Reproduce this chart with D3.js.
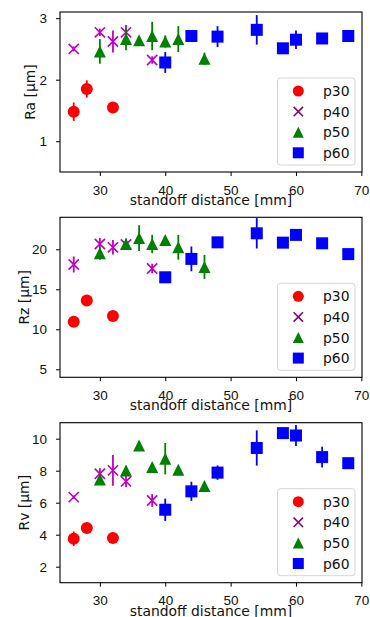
<!DOCTYPE html>
<html>
<head>
<meta charset="utf-8">
<script src="https://cdn.jsdelivr.net/npm/d3@7"></script>
<style>
  body { margin: 0; background: #fff; }
  svg { display: block; font-family: "DejaVu Sans", sans-serif; }
</style>
</head>
<body>
<div id="chart"></div>
<script>
// standoff distances per power setting
const dist30 = [26, 28, 32];
const dist40 = [26, 30, 32, 34, 38];
const dist50 = [30, 34, 36, 38, 40, 42, 46];
const dist60 = [40, 44, 48, 54, 58, 60, 64, 68];

// Ra [um]
const ra30 = [1.48, 1.85, 1.55];
const ra30Err = [0.15, 0.14, 0.05];
const ra40 = [2.50, 2.77, 2.62, 2.77, 2.32];
const ra40Err = [0.04, 0.06, 0.18, 0.12, 0.06];
const ra50 = [2.46, 2.66, 2.64, 2.71, 2.62, 2.66, 2.34];
const ra50Err = [0.2, 0.18, 0.05, 0.23, 0.1, 0.21, 0.1];
const ra60 = [2.28, 2.71, 2.70, 2.81, 2.51, 2.65, 2.67, 2.71];
const ra60Err = [0.17, 0.05, 0.17, 0.24, 0.02, 0.15, 0.03, 0.03];

// Rz [um]
const rz30 = [10.95, 13.6, 11.66];
const rz30Err = [0.3, 0.3, 0.3];
const rz40 = [18.1, 20.66, 20.25, 20.6, 17.6];
const rz40Err = [1.0, 0.75, 0.9, 0.7, 0.6];
const rz50 = [19.5, 20.66, 21.4, 20.66, 21.16, 20.25, 17.8];
const rz50Err = [0.8, 0.7, 1.6, 1.15, 0.3, 1.55, 1.5];
const rz60 = [16.5, 18.8, 20.87, 22.0, 20.83, 21.8, 20.75, 19.4];
const rz60Err = [0.4, 1.55, 0.3, 1.9, 0.2, 0.3, 0.4, 0.2];

// Rv [um]
const rv30 = [3.75, 4.42, 3.80];
const rv30Err = [0.45, 0.2, 0.15];
const rv40 = [6.35, 7.81, 8.02, 7.33, 6.14];
const rv40Err = [0.1, 0.35, 0.96, 0.35, 0.4];
const rv50 = [7.45, 8.02, 9.58, 8.23, 8.75, 8.06, 7.04];
const rv50Err = [0.3, 0.25, 0.2, 0.15, 0.98, 0.2, 0.15];
const rv60 = [5.56, 6.71, 7.88, 9.42, 10.35, 10.2, 8.85, 8.47];
const rv60Err = [0.7, 0.6, 0.45, 1.1, 0.15, 0.66, 0.65, 0.3];

const seriesNames = ["p30", "p40", "p50", "p60"];
const xTicks = [30, 40, 50, 60, 70];
const raTicks = [1, 2, 3];
const rzTicks = [5, 10, 15, 20];
const rvTicks = [2, 4, 6, 8, 10];

const styles = {
  p30: { shape: "circle", color: "#ff0000", legend: "#ff0000" },
  p40: { shape: "x", color: "#c000c0", legend: "#800080" },
  p50: { shape: "triangle", color: "#008000", legend: "#008000" },
  p60: { shape: "square", color: "#0000ff", legend: "#0000ff" }
};

const dists = { p30: dist30, p40: dist40, p50: dist50, p60: dist60 };

const panels = [
  { label: "Ra [µm]", labelX: 35, top: 12, domain: [0.5, 3.1], ticks: raTicks,
    values: { p30: [ra30, ra30Err], p40: [ra40, ra40Err], p50: [ra50, ra50Err], p60: [ra60, ra60Err] } },
  { label: "Rz [µm]", labelX: 28.5, top: 217.3, domain: [4, 24], ticks: rzTicks,
    values: { p30: [rz30, rz30Err], p40: [rz40, rz40Err], p50: [rz50, rz50Err], p60: [rz60, rz60Err] } },
  { label: "Rv [µm]", labelX: 28.5, top: 422.7, domain: [1, 11], ticks: rvTicks,
    values: { p30: [rv30, rv30Err], p40: [rv40, rv40Err], p50: [rv50, rv50Err], p60: [rv60, rv60Err] } }
];

const width = 370, height = 617;
const left = 60, right = 362, panelHeight = 160;

const svg = d3.select("#chart").append("svg")
  .attr("width", width)
  .attr("height", height);

const x = d3.scaleLinear().domain([23.9, 70.1]).range([left, right]);

function drawMarker(g, shape, cx, cy, size, color) {
  const h = size / 2;
  if (shape === "circle") {
    g.append("circle").attr("cx", cx).attr("cy", cy).attr("r", h).attr("fill", color);
  } else if (shape === "square") {
    g.append("rect").attr("x", cx - h).attr("y", cy - h)
      .attr("width", size).attr("height", size).attr("fill", color);
  } else if (shape === "triangle") {
    g.append("path")
      .attr("d", `M${cx},${cy - h}L${cx + h},${cy + h}L${cx - h},${cy + h}Z`)
      .attr("fill", color);
  } else {
    const k = h * 0.85;
    g.append("path")
      .attr("d", `M${cx - k},${cy - k}L${cx + k},${cy + k}M${cx - k},${cy + k}L${cx + k},${cy - k}`)
      .attr("stroke", color).attr("stroke-width", 1.6).attr("fill", "none");
  }
}

panels.forEach(panel => {
  const bottom = panel.top + panelHeight;
  const y = d3.scaleLinear().domain(panel.domain).range([bottom, panel.top]);
  const g = svg.append("g");

  // data: error bars then markers
  seriesNames.forEach(name => {
    const st = styles[name];
    const [vals, errs] = panel.values[name];
    const ds = dists[name];
    ds.forEach((d, i) => {
      g.append("line")
        .attr("x1", x(d)).attr("x2", x(d))
        .attr("y1", y(vals[i] - errs[i])).attr("y2", y(vals[i] + errs[i]))
        .attr("stroke", st.color).attr("stroke-width", 1.8);
    });
    ds.forEach((d, i) => drawMarker(g, st.shape, x(d), y(vals[i]), 12, st.color));
  });

  // axes
  g.append("g")
    .attr("transform", `translate(0,${bottom})`)
    .call(d3.axisBottom(x).tickValues(xTicks).tickFormat(d3.format("d"))
      .tickSize(4).tickPadding(9).tickSizeOuter(0))
    .call(a => a.select(".domain").remove())
    .call(a => a.selectAll("text").attr("font-size", 13.5).attr("fill", "#111"));

  g.append("g")
    .attr("transform", `translate(${left},0)`)
    .call(d3.axisLeft(y).tickValues(panel.ticks).tickFormat(d3.format("d"))
      .tickSize(4).tickPadding(9).tickSizeOuter(0))
    .call(a => a.select(".domain").remove())
    .call(a => a.selectAll("text").attr("font-size", 13.5).attr("fill", "#111"));

  g.append("rect")
    .attr("x", left).attr("y", panel.top)
    .attr("width", right - left).attr("height", panelHeight)
    .attr("fill", "none").attr("stroke", "#000").attr("stroke-width", 1.1);

  g.append("text")
    .attr("x", (left + right) / 2).attr("y", bottom + 33)
    .attr("text-anchor", "middle").attr("font-size", 13.9).attr("fill", "#111")
    .text("standoff distance [mm]");

  g.append("text")
    .attr("transform", `translate(${panel.labelX},${panel.top + panelHeight / 2}) rotate(-90)`)
    .attr("text-anchor", "middle").attr("font-size", 13.9).attr("fill", "#111")
    .text(panel.label);

  // legend
  const lx = 277.5, ly = bottom - 7 - 87, lw = 77.5, lh = 87;
  const legend = g.append("g");
  legend.append("rect")
    .attr("x", lx).attr("y", ly).attr("width", lw).attr("height", lh)
    .attr("rx", 3).attr("fill", "#fff").attr("fill-opacity", 0.8)
    .attr("stroke", "#d5d5d5").attr("stroke-width", 1);
  seriesNames.forEach((name, i) => {
    const cy = ly + 13 + i * 20.6;
    drawMarker(legend, styles[name].shape, 298.3, cy, 11, styles[name].legend);
    legend.append("text")
      .attr("x", 323).attr("y", cy + 5)
      .attr("font-size", 13.9).attr("fill", "#111")
      .text(name);
  });
});
</script>
</body>
</html>
